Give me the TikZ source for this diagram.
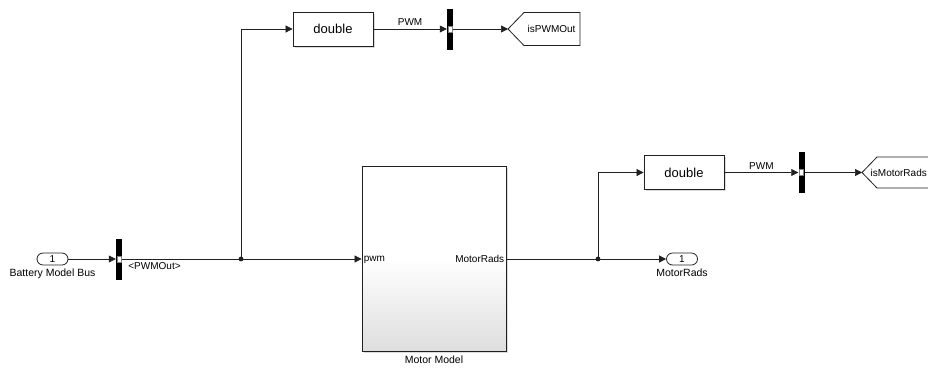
\documentclass[tikz,border=0pt]{standalone}
\usepackage{fontspec}
\setmainfont{Liberation Sans}
\usepackage{tikz}
\usetikzlibrary{arrows.meta,positioning,shadows}
\definecolor{wiregray}{HTML}{202020}
\definecolor{shadowgray}{HTML}{B8B8B8}
\tikzset{
  portblock/.style={
    draw=wiregray,
    line width=0.8pt,
    rounded corners=6pt,
    minimum width=31pt,
    minimum height=12pt,
    inner sep=0pt,
    font=\fontsize{10}{10}\selectfont
  },
  busbar/.style={
    fill=black,
    minimum width=6pt,
    minimum height=41pt,
    inner sep=0pt
  },
  busport/.style={
    draw=gray,
    fill=white,
    line width=0.4pt,
    minimum width=4pt,
    minimum height=6pt,
    inner sep=0pt
  },
  convblock/.style={
    draw=wiregray,
    fill=white,
    line width=0.8pt,
    minimum width=80pt,
    minimum height=34pt,
    font=\fontsize{13}{13}\selectfont,
    drop shadow={shadow xshift=1.5pt,shadow yshift=-1.5pt,fill=shadowgray}
  },
  subsystem/.style={
    draw=wiregray,
    line width=0.8pt,
    top color=white,
    bottom color=black!13,
    middle color=white,
    minimum width=144pt,
    minimum height=185pt,
    drop shadow={shadow xshift=2pt,shadow yshift=-2pt,fill=shadowgray}
  },
  gototext/.style={
    font=\fontsize{10}{10}\selectfont,
    inner sep=0.5pt
  },
  tagline/.style={
    draw=wiregray,
    fill=white,
    line width=0.8pt,
    line join=miter
  },
  sigarrow/.style={
    -{Triangle[length=7pt,width=7pt]},
    line width=0.7pt,
    draw=wiregray
  },
  sigline/.style={
    line width=0.7pt,
    draw=wiregray
  },
  siglabel/.style={
    font=\fontsize{10}{10}\selectfont,
    inner sep=1pt
  },
  blocklabel/.style={
    font=\fontsize{10.5}{10.5}\selectfont,
    inner sep=1pt
  }
}

\begin{document}
\begin{tikzpicture}[x=1pt,y=-1pt]
    \clip (0,0) rectangle (928,368);
    \fill[white] (0,0) rectangle (928,368);

    % inport and bus selector
    \node[portblock,
        label={[blocklabel,label distance=2pt]below:Battery Model Bus}]
        (batin) at (52.5,259) {1};
    \node[busbar] (selbar) at (119,259) {};
    \node[busport] at (selbar.center) {};
    \node[siglabel, below right=2pt and 5pt of selbar.east] (pwmsel) {<PWMOut>};
    \coordinate (jpwm) at (241,259);

    % upper branch
    \node[convblock] (dblpwm) at (333,29) {double};
    \node[busbar] (crebar1) at (450,29) {};
    \node[busport] at (crebar1.center) {};
    \coordinate (pwmtip) at (508,29);
    \draw[tagline] (pwmtip) -- ++(16,-16.5) -- ++(56,0) -- ++(0,33) -- ++(-56,0) -- cycle;
    \node[gototext, anchor=west] (gotopwm) at (527,29) {isPWMOut};

    % motor model
    \node[subsystem,
        label={[blocklabel,label distance=3pt]below:Motor Model}]
        (motor) at (434,258.5) {};
    \node[siglabel, anchor=west] (pwmport) at ([xshift=1pt,yshift=-1pt]motor.west) {pwm};
    \node[siglabel, anchor=east] (radsport) at ([xshift=-1pt]motor.east) {MotorRads};

    % output side
    \coordinate (jrads) at (598,259);
    \node[portblock,
        label={[blocklabel,label distance=2pt]below:MotorRads}]
        (radsout) at (682,259) {1};
    \node[convblock] (dblrads) at (684,172.5) {double};
    \node[busbar] (crebar2) at (801.5,172.5) {};
    \node[busport] at (crebar2.center) {};
    \coordinate (radstip) at (862,172.5);
    \draw[tagline] (radstip) -- ++(15,-15.5) -- ++(70,0) -- ++(0,31) -- ++(-70,0) -- cycle;
    \node[gototext, anchor=west] (gotorads) at (870,172.5) {isMotorRads};

    % wires
    \draw[sigarrow] (batin) -- (selbar);
    \draw[sigline] (selbar) -- (jpwm);
    \draw[sigarrow] (jpwm) -- (jpwm -| motor.west);
    \draw[sigarrow] (jpwm) |- (dblpwm);
    \draw[sigarrow] (dblpwm) -- node[siglabel, above=2pt] {PWM} (crebar1);
    \draw[sigarrow] (crebar1) -- (pwmtip);
    \draw[sigline] (motor.east |- jrads) -- (jrads);
    \draw[sigarrow] (jrads) -- (radsout);
    \draw[sigarrow] (jrads) |- (dblrads);
    \draw[sigarrow] (dblrads) -- node[siglabel, above=2pt] {PWM} (crebar2);
    \draw[sigarrow] (crebar2) -- (radstip);

    \fill[wiregray] (jpwm) circle (2.4pt);
    \fill[wiregray] (jrads) circle (2.4pt);
\end{tikzpicture}
\end{document}
